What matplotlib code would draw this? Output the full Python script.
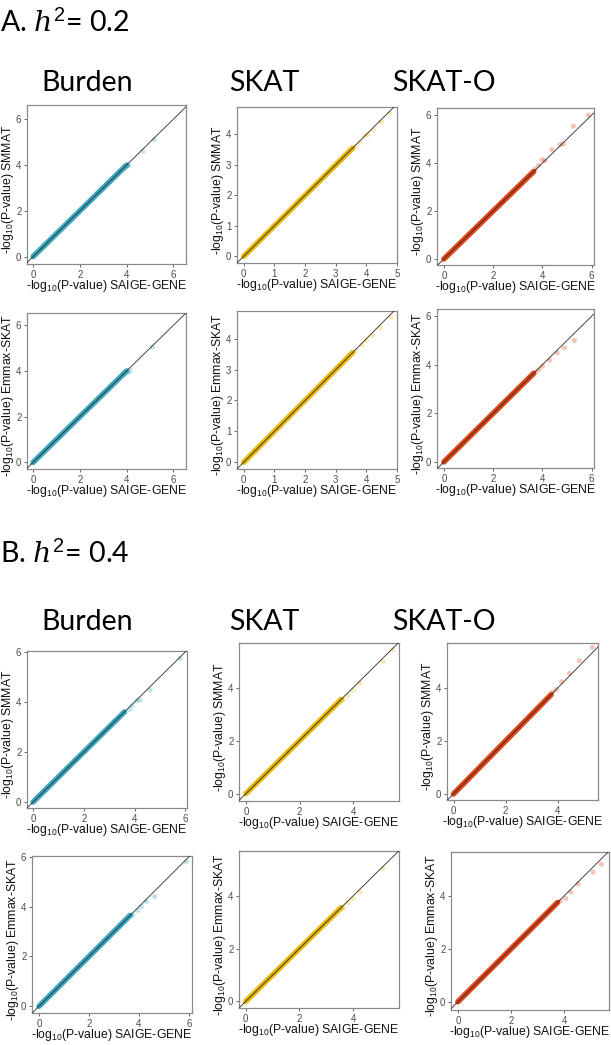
import matplotlib
matplotlib.use("Agg")
import matplotlib.pyplot as plt

plt.rcParams['mathtext.fontset'] = 'custom'
plt.rcParams['mathtext.rm'] = 'Liberation Sans'
plt.rcParams['mathtext.it'] = 'DejaVu Serif:italic'

W, H = 611, 1045

# DATA: per panel, end of the dense band along y=x, plus the sparse tail points
# (x = -log10 P SAIGE-GENE, y = -log10 P other method)
a_burden_band = 4.0
a_burden_tail_x = [3.85, 3.95, 4.05, 4.1, 4.7, 5.17]
a_burden_tail_y = [3.8, 3.9, 3.95, 4.0, 4.6, 5.12]

a_skat_band = 3.55
a_skat_tail_x = [3.65, 3.8, 3.95, 4.05, 4.22, 4.49, 4.76]
a_skat_tail_y = [3.6, 3.75, 3.95, 4.0, 4.14, 4.41, 4.69]

a_skato_band = 3.65
a_skato_tail_x = [3.7, 3.85, 3.99, 4.1, 4.39, 4.72, 4.85, 5.26, 5.87]
a_skato_tail_y = [3.75, 3.9, 4.14, 4.1, 4.56, 4.77, 4.8, 5.54, 6.0]

a2_burden_band = 4.0
a2_burden_tail_x = [3.9, 4.05, 4.15, 5.1]
a2_burden_tail_y = [3.85, 3.95, 4.0, 5.05]

a2_skat_band = 3.55
a2_skat_tail_x = [3.65, 3.85, 4.0, 4.2, 4.45, 4.8]
a2_skat_tail_y = [3.6, 3.8, 3.95, 4.1, 4.35, 4.7]

a2_skato_band = 3.65
a2_skato_tail_x = [3.7, 3.85, 4.0, 4.3, 4.6, 4.9, 5.3]
a2_skato_tail_y = [3.7, 3.8, 3.95, 4.2, 4.5, 4.7, 5.0]

b_burden_band = 3.6
b_burden_tail_x = [3.8, 3.9, 4.1, 4.22, 4.62, 5.8]
b_burden_tail_y = [3.7, 3.85, 4.05, 4.08, 4.48, 5.74]

b_skat_band = 3.55
b_skat_tail_x = [3.63, 3.8, 4.0, 4.25, 5.12, 5.47]
b_skat_tail_y = [3.53, 3.7, 3.9, 4.16, 4.98, 5.43]

b_skato_band = 3.75
b_skato_tail_x = [3.8, 3.95, 4.15, 4.46, 4.83, 5.33]
b_skato_tail_y = [3.85, 3.95, 4.23, 4.55, 5.03, 5.53]

b2_burden_band = 3.65
b2_burden_tail_x = [3.75, 3.95, 4.1, 4.29, 4.63, 5.89]
b2_burden_tail_y = [3.65, 3.85, 4.0, 4.2, 4.4, 5.8]

b2_skat_band = 3.55
b2_skat_tail_x = [3.65, 3.81, 4.0, 4.25, 5.11]
b2_skat_tail_y = [3.55, 3.74, 3.9, 4.15, 5.03]

b2_skato_band = 3.75
b2_skato_tail_x = [3.85, 4.06, 4.25, 4.52, 5.09, 5.4]
b2_skato_tail_y = [3.8, 3.9, 4.15, 4.46, 4.9, 5.2]

burden_col = '#3AA6BE'
skat_col = '#E9B80C'
skato_col = '#DE4516'

# (box in pixels: left, top, right, bottom), xlim, ylim, xticks, yticks
panels = [
    ((27, 105, 186, 264), (-0.26, 6.54), (-0.32, 6.62), [0, 2, 4, 6], [0, 2, 4, 6],
     a_burden_band, a_burden_tail_x, a_burden_tail_y, burden_col, 'SMMAT'),
    ((237, 107, 397, 263), (-0.22, 4.98), (-0.22, 4.9), [0, 1, 2, 3, 4, 5], [0, 1, 2, 3, 4],
     a_skat_band, a_skat_tail_x, a_skat_tail_y, skat_col, 'SMMAT'),
    ((437, 108, 594, 265), (-0.28, 6.1), (-0.25, 6.3), [0, 2, 4, 6], [0, 2, 4, 6],
     a_skato_band, a_skato_tail_x, a_skato_tail_y, skato_col, 'SMMAT'),
    ((27, 313, 186, 469), (-0.26, 6.54), (-0.29, 6.54), [0, 2, 4, 6], [0, 2, 4, 6],
     a2_burden_band, a2_burden_tail_x, a2_burden_tail_y, burden_col, 'Emmax-SKAT'),
    ((237, 311, 397, 469), (-0.22, 4.98), (-0.22, 4.9), [0, 1, 2, 3, 4, 5], [0, 1, 2, 3, 4],
     a2_skat_band, a2_skat_tail_x, a2_skat_tail_y, skat_col, 'Emmax-SKAT'),
    ((437, 309, 594, 468), (-0.28, 6.1), (-0.25, 6.3), [0, 2, 4, 6], [0, 2, 4, 6],
     a2_skato_band, a2_skato_tail_x, a2_skato_tail_y, skato_col, 'Emmax-SKAT'),
    ((27, 651, 187, 808), (-0.24, 6.07), (-0.24, 6.04), [0, 2, 4, 6], [0, 2, 4, 6],
     b_burden_band, b_burden_tail_x, b_burden_tail_y, burden_col, 'SMMAT'),
    ((239, 643, 399, 801), (-0.26, 5.71), (-0.28, 5.68), [0, 2, 4], [0, 2, 4],
     b_skat_band, b_skat_tail_x, b_skat_tail_y, skat_col, 'SMMAT'),
    ((447, 643, 598, 800), (-0.25, 5.55), (-0.23, 5.7), [0, 2, 4], [0, 2, 4],
     b_skato_band, b_skato_tail_x, b_skato_tail_y, skato_col, 'SMMAT'),
    ((32, 856, 192, 1013), (-0.28, 6.12), (-0.27, 6.03), [0, 2, 4, 6], [0, 2, 4, 6],
     b2_burden_band, b2_burden_tail_x, b2_burden_tail_y, burden_col, 'Emmax-SKAT'),
    ((239, 851, 399, 1008), (-0.25, 5.71), (-0.25, 5.7), [0, 2, 4], [0, 2, 4],
     b2_skat_band, b2_skat_tail_x, b2_skat_tail_y, skat_col, 'Emmax-SKAT'),
    ((451, 852, 609, 1010), (-0.26, 5.69), (-0.31, 5.66), [0, 2, 4], [0, 2, 4],
     b2_skato_band, b2_skato_tail_x, b2_skato_tail_y, skato_col, 'Emmax-SKAT'),
]

fig = plt.figure(figsize=(W / 100, H / 100), dpi=100)

lab_font = dict(family='Liberation Sans', size=8.8, color='#111111')

for box, xl, yl, xt, yt, band, tx, ty, col, method in panels:
    l, t, r, b = box
    ax = fig.add_axes([l / W, 1 - b / H, (r - l) / W, (b - t) / H])
    ax.set_xlim(xl)
    ax.set_ylim(yl)
    ax.set_xticks(xt)
    ax.set_yticks(yt)
    ax.tick_params(labelsize=7, colors='#4D4D4D', length=2.5, width=0.6, pad=1.5)
    for lab in ax.get_xticklabels() + ax.get_yticklabels():
        lab.set_family('Liberation Sans')
    for s in ax.spines.values():
        s.set_color('#8A8A8A')
        s.set_linewidth(0.9)

    # dense band of genes along the diagonal
    ax.plot([0, band], [0, band], color=col, lw=4.0, solid_capstyle='round', zorder=2)
    # sparse tail
    ax.scatter(tx, ty, s=14, color=col, alpha=0.3, edgecolors='none', zorder=2)
    # y = x reference
    ax.axline((0, 0), slope=1, color='#2a2a2a', lw=0.6, zorder=3)

    fig.text((l + r) / 2 / W, 1 - (b + 25) / H,
             r'-log$_{10}$(P-value) SAIGE-GENE', ha='center', va='baseline', **lab_font)
    fig.text((l - 19) / W, 1 - ((t + b) / 2 + 5) / H,
             r'-log$_{10}$(P-value) ' + method, ha='center', va='center',
             rotation=90, **lab_font)

head_font = dict(family='Lato', size=20.5, color='black')
fig.text(0, 1 - 32 / H, r'A. $h^2$= 0.2', ha='left', va='baseline', **head_font)
fig.text(0, 1 - 563 / H, r'B. $h^2$= 0.4', ha='left', va='baseline', **head_font)

col_titles = ['Burden', 'SKAT', 'SKAT-O']
title_x = [87, 264, 444]
for name, x in zip(col_titles, title_x):
    fig.text(x / W, 1 - 91 / H, name, ha='center', va='baseline', **head_font)
    fig.text(x / W, 1 - 630 / H, name, ha='center', va='baseline', **head_font)

fig.savefig('out.png', dpi=100)
